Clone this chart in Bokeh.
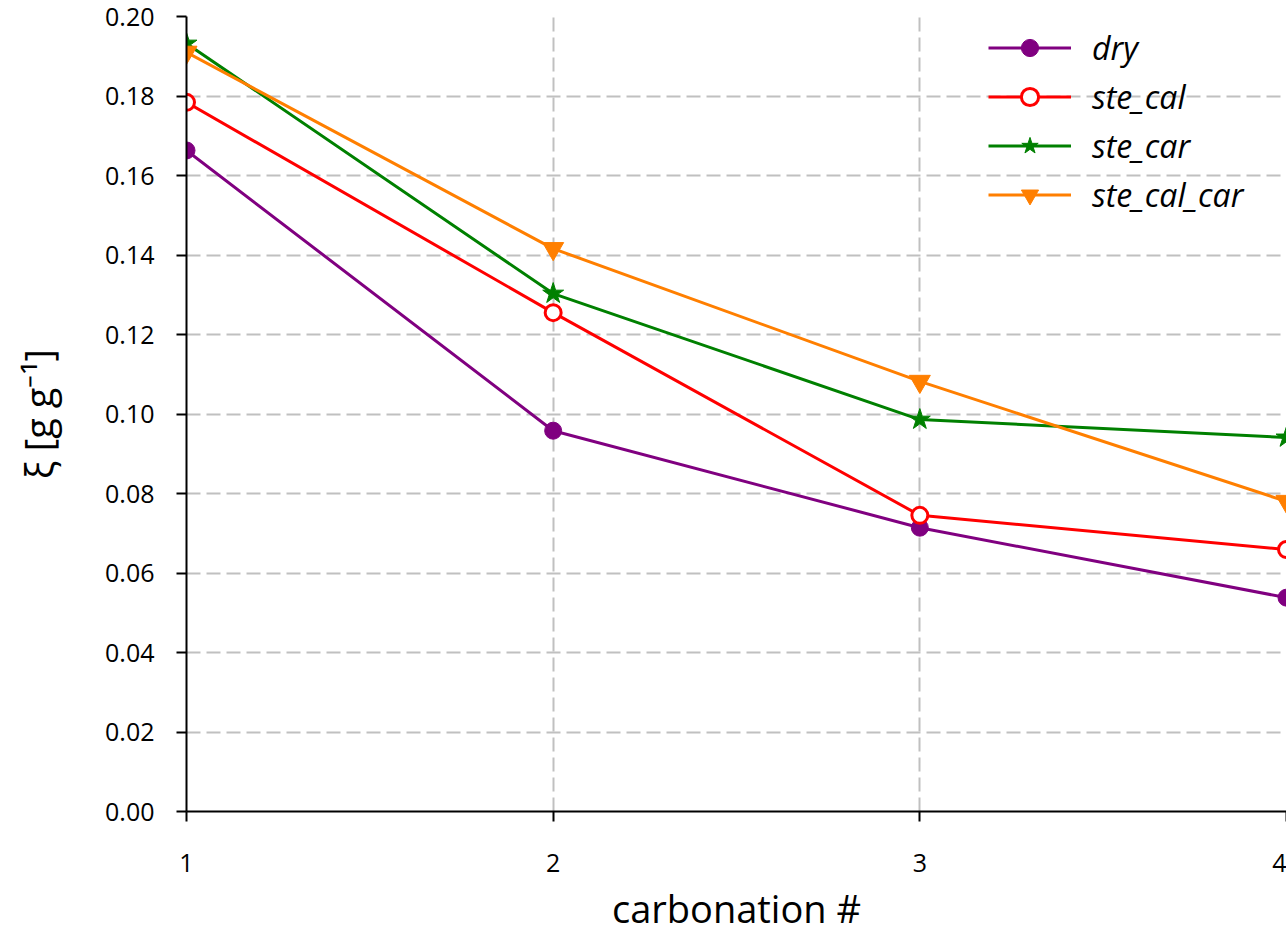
from bokeh.plotting import figure
from bokeh.models import Range1d, FixedTicker, NumeralTickFormatter, Legend, LegendItem
from bokeh.embed import file_html
from bokeh.resources import INLINE

# carbonation cycle number
cycles = [1, 2, 3, 4]

# conversion xi [g g^-1] for each sample series
dry = [0.1663, 0.0958, 0.0714, 0.0538]
ste_cal = [0.1784, 0.1255, 0.0745, 0.0659]
ste_car = [0.1932, 0.1303, 0.0986, 0.0941]
ste_cal_car = [0.1910, 0.1416, 0.1082, 0.0780]

y_ticks = [0.00, 0.02, 0.04, 0.06, 0.08, 0.10, 0.12, 0.14, 0.16, 0.18, 0.20]
x_ticks = [1, 2, 3, 4]

FONT = "Open Sans"
ORANGE = "#ff7f00"

p = figure(width=1286, height=938, output_backend="svg", toolbar_location=None,
           x_range=Range1d(1, 4), y_range=Range1d(0, 0.20),
           min_border_left=186, min_border_right=0, min_border_top=16, min_border_bottom=127)
p.outline_line_color = None
p.background_fill_color = "white"
p.border_fill_color = "white"

# axes
for ax in (p.xaxis[0], p.yaxis[0]):
    ax.axis_line_color = "black"
    ax.axis_line_width = 2
    ax.major_tick_line_color = "black"
    ax.major_tick_line_width = 2
    ax.major_tick_in = 0
    ax.major_tick_out = 10
    ax.minor_tick_line_color = None
    ax.major_label_text_font = FONT
    ax.major_label_text_font_size = "25px"
    ax.major_label_text_color = "black"
    ax.axis_label_text_font = FONT
    ax.axis_label_text_font_style = "normal"
    ax.axis_label_text_font_size = "38px"
    ax.axis_label_text_color = "black"

p.xaxis.ticker = FixedTicker(ticks=x_ticks)
p.yaxis.ticker = FixedTicker(ticks=y_ticks)
p.yaxis.formatter = NumeralTickFormatter(format="0.00")
p.xaxis.major_label_standoff = 32
p.yaxis.major_label_standoff = 22
p.xaxis.axis_label = "carbonation #"
p.yaxis.axis_label = "ξ [g g⁻¹]"
p.xaxis.axis_label_standoff = 7
p.yaxis.axis_label_standoff = 38

# dashed grid
for g in (p.xgrid[0], p.ygrid[0]):
    g.grid_line_color = "#c0c0c0"
    g.grid_line_width = 2
    g.grid_line_dash = "14 6"
p.xgrid.ticker = FixedTicker(ticks=x_ticks)
p.ygrid.ticker = FixedTicker(ticks=y_ticks)

LW = 3
r_dry_l = p.line(cycles, dry, line_color="purple", line_width=LW)
r_dry_m = p.scatter(cycles, dry, marker="circle", size=17, fill_color="purple", line_color="purple")

r_cal_l = p.line(cycles, ste_cal, line_color="red", line_width=LW)
r_cal_m = p.scatter(cycles, ste_cal, marker="circle", size=16, fill_color="white",
                    line_color="red", line_width=3)

r_car_l = p.line(cycles, ste_car, line_color="green", line_width=LW)
r_car_m = p.scatter(cycles, ste_car, marker="star", size=22, fill_color="green", line_color="green")

r_cc_l = p.line(cycles, ste_cal_car, line_color=ORANGE, line_width=LW)
r_cc_m = p.scatter(cycles, ste_cal_car, marker="inverted_triangle", size=21,
                   fill_color=ORANGE, line_color=ORANGE)

legend = Legend(items=[
    LegendItem(label="dry", renderers=[r_dry_l, r_dry_m]),
    LegendItem(label="ste_cal", renderers=[r_cal_l, r_cal_m]),
    LegendItem(label="ste_car", renderers=[r_car_l, r_car_m]),
    LegendItem(label="ste_cal_car", renderers=[r_cc_l, r_cc_m]),
], location=(792, 585))
legend.label_text_font = FONT
legend.label_text_font_style = "italic"
legend.label_text_font_size = "32px"
legend.label_text_color = "black"
legend.glyph_width = 83
legend.glyph_height = 43
legend.label_height = 43
legend.label_standoff = 21
legend.spacing = 6
legend.padding = 10
legend.margin = 0
legend.border_line_alpha = 0
legend.background_fill_alpha = 0
p.add_layout(legend, "center")

open("out.html", "w").write(file_html(p, INLINE))
